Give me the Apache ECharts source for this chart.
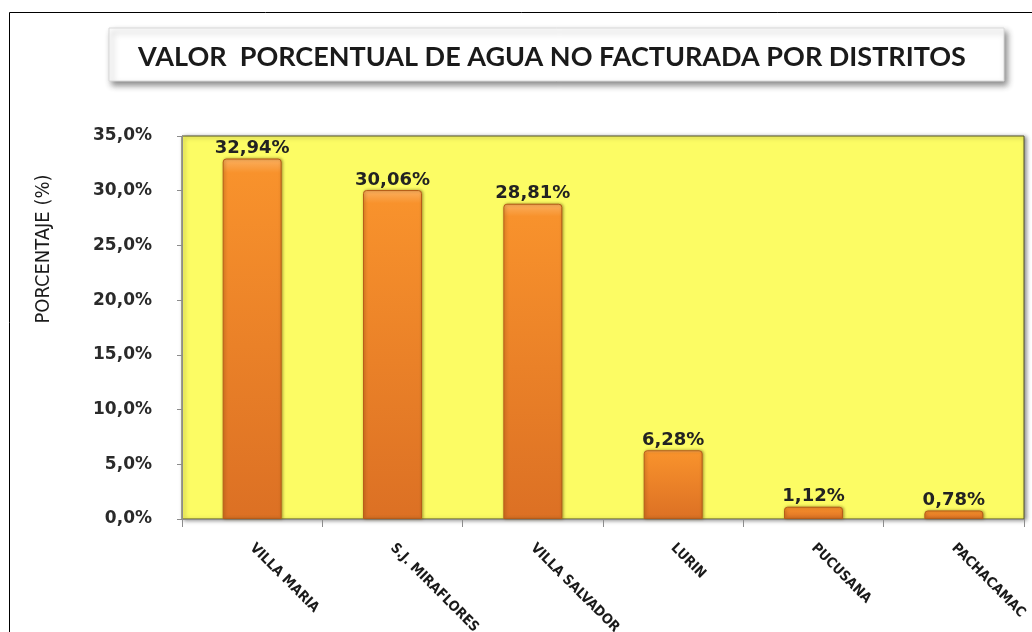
<!DOCTYPE html>
<html>
<head>
<meta charset="utf-8">
<script src="https://cdn.jsdelivr.net/npm/echarts@6/dist/echarts.min.js"></script>
<style>
    html, body { margin: 0; padding: 0; background: #fff; }
    #chart { width: 1032px; height: 632px; }
</style>
</head>
<body>
<div id="chart"></div>
<script>
    // datos del grafico
    var distritos = ['VILLA MARIA', 'S.J. MIRAFLORES', 'VILLA SALVADOR', 'LURIN', 'PUCUSANA', 'PACHACAMAC'];
    var porcentajes = [32.94, 30.06, 28.81, 6.28, 1.12, 0.78];
    var tituloTexto = 'VALOR  PORCENTUAL DE AGUA NO FACTURADA POR DISTRITOS';
    var ejeYNombre = 'PORCENTAJE (%)';

    function coma(v, dec) {
        return v.toFixed(dec).replace('.', ',') + '%';
    }

    var myChart = echarts.init(document.getElementById('chart'));
    var option = {
        backgroundColor: '#fff',
        animation: false,
        graphic: [
            {   // marco exterior
                type: 'rect',
                shape: { x: 9.5, y: 12.5, width: 1040, height: 700 },
                style: { fill: 'none', stroke: '#000', lineWidth: 1 },
                silent: true
            },
            {   // caja del titulo
                type: 'rect',
                shape: { x: 109, y: 28, width: 895, height: 53 },
                style: {
                    fill: '#fff', stroke: '#d8d8d8', lineWidth: 1,
                    shadowBlur: 6, shadowOffsetX: 3, shadowOffsetY: 4,
                    shadowColor: 'rgba(0,0,0,0.45)'
                },
                z: 1
            },
            {
                type: 'text',
                x: 552, y: 57,
                style: {
                    text: tituloTexto,
                    font: 'bold 27px Lato, "Open Sans", sans-serif',
                    fill: '#1a1a1a',
                    textAlign: 'center',
                    textVerticalAlign: 'middle'
                },
                z: 2
            },
            {
                type: 'text',
                x: 44, y: 249,
                rotation: Math.PI / 2,
                style: {
                    text: ejeYNombre,
                    font: '20px "Liberation Sans Narrow", "DejaVu Sans Condensed", sans-serif',
                    fill: '#1a1a1a',
                    textAlign: 'center',
                    textVerticalAlign: 'middle'
                }
            }
        ],
        grid: {
            show: true,
            left: 182, right: 8, top: 136, bottom: 113,
            outerBoundsMode: 'none',
            backgroundColor: '#fcfc64',
            borderColor: '#55552a',
            borderWidth: 1,
            shadowBlur: 4,
            shadowOffsetX: 2,
            shadowOffsetY: 1,
            shadowColor: 'rgba(0,0,0,0.45)'
        },
        xAxis: {
            type: 'category',
            data: distritos,
            axisLine: { lineStyle: { color: '#8c8c8c', width: 1 } },
            axisTick: { show: true, length: 8, lineStyle: { color: '#8c8c8c' } },
            axisLabel: {
                rotate: -45,
                margin: 27,
                color: '#1a1a1a',
                fontSize: 14,
                fontWeight: 'bold',
                fontFamily: '"Liberation Sans Narrow", "DejaVu Sans Condensed", sans-serif'
            }
        },
        yAxis: {
            type: 'value',
            min: 0, max: 35, interval: 5,
            axisLine: { show: true, lineStyle: { color: '#8c8c8c' } },
            axisTick: { show: true, length: 5, lineStyle: { color: '#8c8c8c' } },
            splitLine: { show: false },
            axisLabel: {
                margin: 30,
                color: '#2a2a2a',
                fontSize: 17,
                fontWeight: 'bold',
                fontFamily: '"DejaVu Sans", Verdana, sans-serif',
                formatter: function (v) { return coma(v, 1); }
            }
        },
        series: [
            {
                name: 'porcentaje',
                type: 'bar',
                barWidth: '42%',
                data: porcentajes,
                itemStyle: {
                    color: new echarts.graphic.LinearGradient(0, 0, 0, 1, [
                        { offset: 0, color: '#fbb060' },
                        { offset: 0.04, color: '#f8922c' },
                        { offset: 1, color: '#dc7024' }
                    ]),
                    borderColor: '#b65c18',
                    borderWidth: 1,
                    borderRadius: [3, 3, 0, 0],
                    shadowBlur: 3,
                    shadowOffsetX: 1,
                    shadowOffsetY: 0,
                    shadowColor: 'rgba(90,60,0,0.5)'
                },
                label: {
                    show: true,
                    position: 'top',
                    distance: 1,
                    color: '#222',
                    fontSize: 18,
                    fontWeight: 'bold',
                    fontFamily: '"DejaVu Sans", Verdana, sans-serif',
                    formatter: function (p) { return coma(p.value, 2); }
                }
            }
        ]
    };
    myChart.setOption(option);
    window.addEventListener('resize', function () { myChart.resize(); });
</script>
</body>
</html>
